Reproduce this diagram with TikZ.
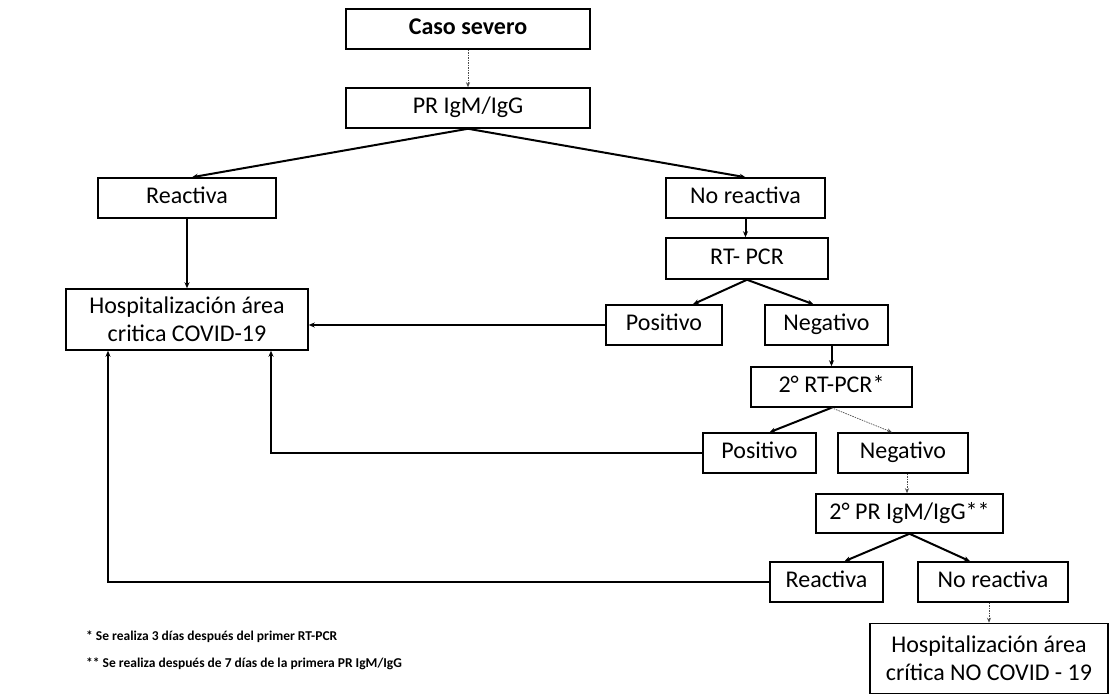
\documentclass[tikz,border=0pt]{standalone}
\usepackage{fontspec}
\setmainfont{Carlito}
\usetikzlibrary{arrows.meta}
\tikzset{
  box/.style={draw=black, line width=1.5pt, rectangle, inner sep=0pt, align=center,
    font=\fontsize{24}{28}\selectfont, minimum height=40pt},
  one/.style={box, text height=16.5pt, text depth=5pt},
  conn/.style={line width=2pt, -{Stealth[length=6pt,width=5pt]}},
  thin/.style={line width=0.7pt, draw=black!70, dash pattern=on 1.5pt off 1pt, -{Stealth[length=5pt,width=4pt]}},
  note/.style={anchor=west, inner sep=0pt, font=\fontsize{13.5}{15}\selectfont\bfseries}
}
\begin{document}
\begin{tikzpicture}[x=1pt,y=-1pt]
\useasboundingbox (0,0) rectangle (1117,696);
\node[one, minimum width=244pt, font=\fontsize{24}{28}\selectfont\bfseries] (caso) at (468,29) {Caso severo};
\node[one, minimum width=244pt] (pr) at (468,108) {PR IgM/IgG};
\node[one, minimum width=178pt] (reac) at (187,198) {Reactiva};
\node[one, minimum width=159pt] (noreac) at (745.5,198) {No reactiva};
\node[one, minimum width=162pt, minimum height=41pt] (rtpcr) at (747,258.5) {RT- PCR};
\node[box, minimum width=242pt, minimum height=61pt] (hosp) at (187,319.5) {Hospitalización área\\critica COVID-19};
\node[one, minimum width=116pt] (pos1) at (664,325) {Positivo};
\node[one, minimum width=123pt] (neg1) at (826.5,325) {Negativo};
\node[one, minimum width=161pt] (rt2) at (831.5,387) {2° RT-PCR*};
\node[one, minimum width=113pt] (pos2) at (759.5,453) {Positivo};
\node[one, minimum width=130pt] (neg2) at (903,453) {Negativo};
\node[one, minimum width=187pt, minimum height=39pt] (pr2) at (909.5,513.5) {2° PR IgM/IgG**};
\node[one, minimum width=113pt] (reac2) at (826.5,582) {Reactiva};
\node[one, minimum width=150pt] (noreac2) at (993,582) {No reactiva};
\node[box, minimum width=238pt, minimum height=70pt] (nocovid) at (989,658.5) {Hospitalización área\\crítica NO COVID - 19};
\node[note] (n1) at (86,637) {* Se realiza 3 días después del primer RT-PCR};
\node[note] (n2) at (86,664) {** Se realiza después de 7 días de la primera PR IgM/IgG};
% connectors
\draw[thin] (caso.south) -- (pr.north);
\draw[conn] (pr.south) -- ([xshift=5pt]reac.north);
\draw[conn] (pr.south) -- (noreac.north);
\draw[conn] (reac.south) -- (hosp.north);
\draw[conn] (noreac.south) -- (noreac.south |- rtpcr.north);
\draw[conn] (rtpcr.south) -- ([xshift=29pt]pos1.north);
\draw[conn] (rtpcr.south) -- ([xshift=-13pt]neg1.north);
\draw[conn] (pos1.west) -- (pos1.west -| hosp.east);
\draw[conn] (neg1.south -| rt2.north) -- (rt2.north);
\draw[conn] (rt2.south) -- ([xshift=10pt]pos2.north);
\draw[thin] (rt2.south) -- ([xshift=-11pt]neg2.north);
\draw[conn] (pos2.west) -| ([xshift=84pt]hosp.south);
\draw[thin] ([xshift=4pt]neg2.south) -- ([xshift=-2.5pt]pr2.north);
\draw[conn] (pr2.south) -- ([xshift=18pt]reac2.north);
\draw[conn] (pr2.south) -- ([xshift=-23pt]noreac2.north);
\draw[conn] (reac2.west) -| ([xshift=-79pt]hosp.south);
\draw[thin] (nocovid.north |- noreac2.south) -- (nocovid.north);
\end{tikzpicture}
\end{document}
